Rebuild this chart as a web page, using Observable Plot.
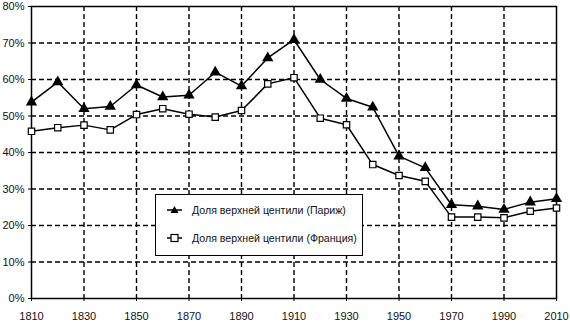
<!DOCTYPE html>
<html>
<head>
<meta charset="utf-8">
<script src="https://cdn.jsdelivr.net/npm/d3@7"></script>
<script src="https://cdn.jsdelivr.net/npm/@observablehq/plot@0.6"></script>
<style>
  html, body { margin: 0; padding: 0; background: #fff; }
  #wrap { position: relative; width: 570px; height: 326px; font-family: "Liberation Sans", Arial, sans-serif; }
  #legend { position: absolute; left: 155px; top: 194px; width: 206px; height: 60px; background: #fff; border: 1.5px solid #000; font-size: 10.6px; color: #111; }
  .item { position: absolute; left: 10px; display: flex; align-items: center; white-space: nowrap; }
  .item svg { margin-right: 9px; }
</style>
</head>
<body>
<div id="wrap"></div>
<script>
const years = [1810,1820,1830,1840,1850,1860,1870,1880,1890,1900,1910,1920,1930,1940,1950,1960,1970,1980,1990,2000,2010];
const paris = [53.8,59.3,52.0,52.6,58.5,55.2,55.7,62.0,58.2,65.9,70.9,60.0,54.8,52.4,39.0,35.8,25.7,25.3,24.4,26.4,27.3];
const france = [45.8,46.8,47.5,46.2,50.4,52.0,50.5,49.7,51.5,58.8,60.5,49.4,47.6,36.7,33.7,32.1,22.3,22.3,22.1,23.9,24.8];
const xTicks = [1810,1830,1850,1870,1890,1910,1930,1950,1970,1990,2010];
const yTicks = [0,10,20,30,40,50,60,70,80];
const seriesNames = ["Доля верхней центили (Париж)", "Доля верхней центили (Франция)"];

const parisData = years.map((y, i) => ({year: y, v: paris[i]}));
const franceData = years.map((y, i) => ({year: y, v: france[i]}));

const chart = Plot.plot({
  width: 570,
  height: 326,
  marginLeft: 31,
  marginRight: 14,
  marginTop: 6,
  marginBottom: 28,
  style: {fontFamily: "Liberation Sans, Arial, sans-serif", fontSize: "11px", color: "#111", background: "#fff"},
  x: {domain: [1810, 2010], label: null},
  y: {domain: [0, 80], label: null},
  marks: [
    Plot.gridX(xTicks.slice(1, -1), {stroke: "#000", strokeOpacity: 1, strokeWidth: 1.4, strokeDasharray: "5,3"}),
    Plot.gridY(yTicks.slice(1, -1), {stroke: "#000", strokeOpacity: 1, strokeWidth: 1.4, strokeDasharray: "5,3"}),
    Plot.frame({stroke: "#000", strokeWidth: 1.5}),
    Plot.axisX(xTicks, {tickSize: 3, tickFormat: d => String(d), tickPadding: 11, fontSize: 11, stroke: "#000", label: null}),
    Plot.axisY(yTicks, {tickSize: 3, tickFormat: d => d + "%", tickPadding: 4, fontSize: 11, stroke: "#000", label: null}),
    Plot.line(parisData, {x: "year", y: "v", stroke: "#000", strokeWidth: 1.5}),
    Plot.line(franceData, {x: "year", y: "v", stroke: "#000", strokeWidth: 1.5}),
    Plot.dot(parisData, {x: "year", y: "v", symbol: "triangle", fill: "#000", r: 4.2}),
    Plot.dot(franceData, {x: "year", y: "v", symbol: "square", fill: "#fff", stroke: "#000", strokeWidth: 1.2, r: 3.6})
  ]
});

const wrap = document.getElementById("wrap");
wrap.appendChild(chart);

const legend = document.createElement("div");
legend.id = "legend";
const tri = '<svg width="17" height="10"><line x1="1" y1="5" x2="16" y2="5" stroke="#000" stroke-width="1.5"/><path d="M8.5,1 L12.5,8 L4.5,8 Z" fill="#000"/></svg>';
const sq = '<svg width="17" height="10"><line x1="1" y1="5" x2="16" y2="5" stroke="#000" stroke-width="1.5"/><rect x="5" y="1.5" width="7" height="7" fill="#fff" stroke="#000" stroke-width="1.2"/></svg>';
legend.innerHTML =
  `<div class="item" style="top:9px">${tri}<span>${seriesNames[0]}</span></div>` +
  `<div class="item" style="top:37px">${sq}<span>${seriesNames[1]}</span></div>`;
wrap.appendChild(legend);
</script>
</body>
</html>
